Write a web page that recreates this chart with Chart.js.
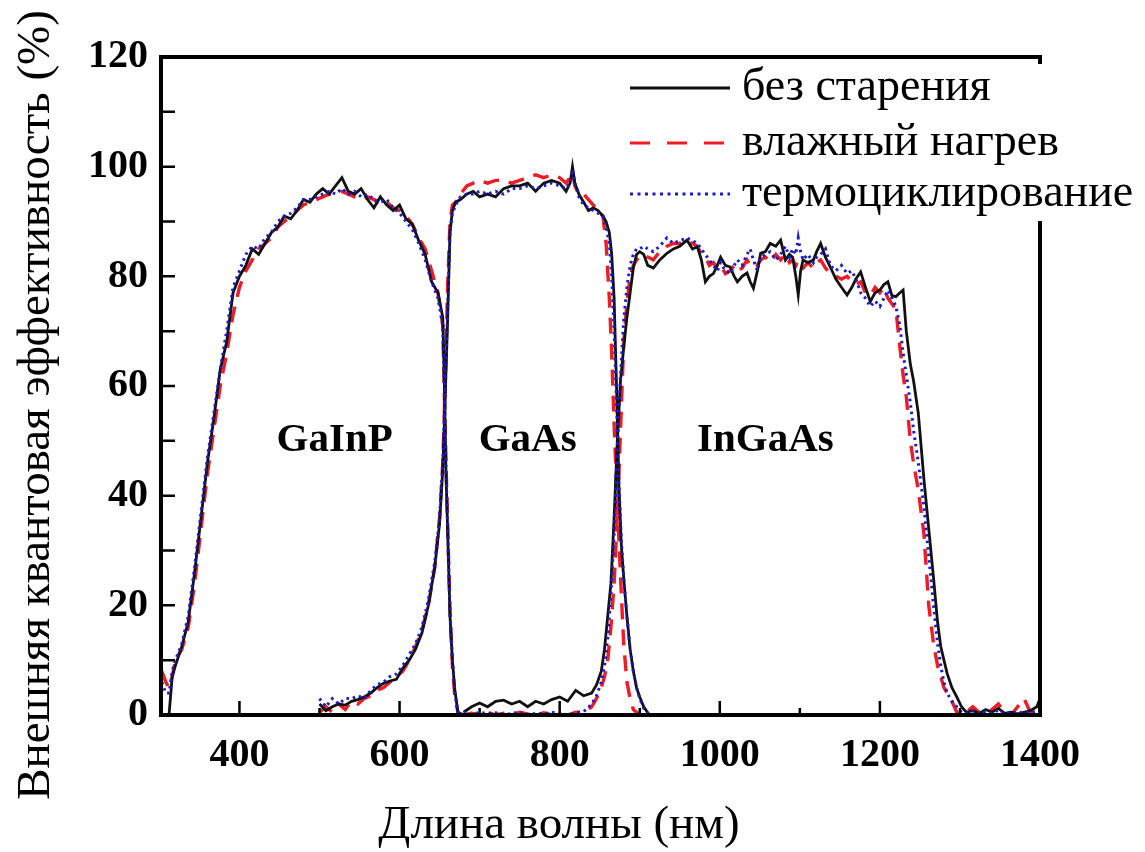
<!DOCTYPE html>
<html>
<head>
<meta charset="utf-8">
<script src="https://cdn.jsdelivr.net/npm/chart.js@4.4.1/dist/chart.umd.min.js"></script>
<style>
  html, body { margin: 0; padding: 0; background: #fff; }
</style>
</head>
<body>
<canvas id="eqeChart" width="1145" height="852"></canvas>
<script>
// wavelength grids (nm) for each sub-cell
const gainpWl = [303, 308, 312, 316, 320, 328, 336, 344, 352, 360, 368, 376, 384, 392, 400, 408, 416, 424, 432, 440, 448, 456, 464, 472, 480, 488, 496, 504, 512, 520, 528, 536, 544, 552, 560, 568, 576, 584, 592, 600, 608, 616, 624, 632, 640, 648, 654, 656, 658, 660, 663, 666, 669, 673, 680];
const gainpFresh = [null, null, 0, 7, 9, 12.5, 17, 26, 36, 46, 54, 63, 68, 77, 80, 82, 85, 84, 86, 88, 89, 91, 90.5, 92, 94, 93.5, 95, 96, 95, 96.5, 98, 95.5, 95, 96, 94, 92.5, 94.5, 93, 92, 93, 90.5, 89.5, 86.5, 84, 79, 77, 72.5, 60, 44, 34, 18, 10, 4.6, 0.4, 0];
const gainpHumid = [8, 6, 5, 7, 10, 12, 16, 24, 34, 44, 52, 60, 66, 73, 78, 81, 83, 85, 86, 87, 89, 90, 91, 92, 93, 93.5, 94, 94.5, 95, 95, 95.5, 95, 94.5, 94, 94.5, 94, 93, 93.5, 92.5, 92, 91, 89.5, 87, 85, 81, 77, 71, 58, 46, 35, 19, 9, 3.5, 0.4, 0];
const gainpCycle = [6, 4, 4, 8, 10, 13, 18, 27, 37, 47, 55, 63, 70, 78, 81, 84, 85.5, 85, 87, 88, 90, 91, 91.5, 92.5, 94, 94, 94.5, 95, 95.5, 95, 96, 95, 95.5, 94.5, 95, 94, 93.5, 94, 92.5, 91.5, 90, 88.5, 86, 83, 79, 76, 71, 59, 45, 35, 19, 10, 4, 0.5, 0];

const gaasWl = [500, 508, 516, 524, 532, 540, 548, 556, 564, 572, 580, 588, 596, 604, 612, 620, 628, 636, 644, 650, 654, 657, 660, 663, 666, 670, 676, 684, 692, 700, 710, 720, 730, 740, 750, 760, 770, 780, 790, 800, 808, 813, 816, 819, 824, 830, 836, 842, 848, 854, 858, 862, 865, 868, 871, 874, 877, 880, 884, 888, 892, 896, 900, 905, 912];
const gaasFresh = [2, 0.8, 1.5, 2, 1.8, 2.5, 2.8, 3.3, 4, 5, 5.8, 6.2, 6.5, 8.5, 10, 12, 15, 20, 27, 35, 45, 58, 72, 88, 92, 93.5, 94, 95, 95.5, 94.5, 95, 94.5, 96, 96.5, 96.5, 97, 95.5, 97, 97.5, 97, 95.5, 97, 100, 97, 95, 93.5, 92, 92.5, 92, 91, 90, 88, 84, 76, 60, 42, 31, 25, 18, 12, 8, 5, 3.3, 1.5, 0];
const gaasHumid = [0.5, 1.5, 0.5, 2, 1, 2.5, 2, 3, 3.5, 4.5, 5, 6, 7, 8, 10, 12.5, 15.5, 20, 27, 36, 46, 60, 78, 90, 93, 93.5, 95, 96.5, 97, 97.5, 97, 97.5, 97.5, 97, 97.5, 98, 98.5, 98, 98.5, 98, 97, 98, 99, 96.5, 95, 95, 94, 93, 92, 91, 86, 76, 66, 53, 42, 32, 22, 13, 6, 3, 1, 0.5, 0, 0, 0];
const gaasCycle = [3, 1.5, 3, 2, 3, 3, 3.5, 3, 4.5, 5.5, 6, 7, 7.5, 9, 11, 13, 16, 21, 28, 36, 46, 59, 74, 88, 91.5, 93, 94.5, 95, 95, 95.5, 95, 95.5, 95, 96, 96, 96.5, 96, 96.5, 97, 96.5, 96, 97, 99.5, 97, 94.5, 93, 92.5, 92, 91.5, 91, 89, 86, 80, 70, 57, 42, 32, 25, 18, 12, 8, 5, 3, 1.2, 0];

const ingaasWl = [680, 690, 700, 710, 720, 730, 740, 750, 760, 770, 780, 790, 800, 810, 820, 830, 840, 846, 852, 856, 860, 864, 868, 872, 876, 880, 884, 888, 892, 896, 900, 905, 910, 917, 925, 934, 942, 950, 959, 966, 972, 977, 982, 987, 992, 997, 1001, 1007, 1013, 1018, 1022, 1028, 1034, 1038, 1042, 1047, 1051, 1057, 1063, 1070, 1076, 1082, 1087, 1091, 1095, 1098, 1101, 1104, 1110, 1117, 1121, 1126, 1132, 1138, 1145, 1152, 1159, 1165, 1170, 1176, 1182, 1188, 1194, 1200, 1205, 1210, 1215, 1220, 1225, 1229, 1233, 1238, 1242, 1248, 1255, 1261, 1267, 1272, 1276, 1280, 1284, 1290, 1296, 1302, 1308, 1316, 1324, 1332, 1340, 1348, 1356, 1364, 1372, 1380, 1388, 1396, 1400];
const ingaasFresh = [0.5, 1.5, 2.2, 1.5, 2.5, 2.7, 2, 2.5, 1.5, 2.5, 2, 2.8, 3.3, 2.5, 4.5, 3.5, 4, 5.5, 8, 12, 18, 24, 36, 50, 61, 67, 72.5, 77, 81.5, 84, 84.5, 84, 82, 81.5, 83, 84.2, 85, 85.5, 86.6, 85, 85.4, 83, 79, 80, 80.5, 82, 83.5, 82, 81.7, 80, 79, 80, 80.6, 79, 77.8, 81, 84.2, 84.5, 86, 85.5, 86.6, 83, 84, 83.5, 80, 76.6, 81, 83, 82.5, 83, 84.5, 86, 83.5, 81.7, 79.5, 78, 76.6, 78, 79.5, 80.8, 78, 75.4, 77, 77.5, 78.5, 79, 76.5, 76.3, 77, 77.5, 70, 64, 61, 55, 43, 34, 25, 17, 12.5, 10, 7.6, 5, 3.3, 1.5, 0.5, 0.8, 0.3, 1, 0.5, 1.2, 0.3, 0.5, 0.2, 0.5, 0.8, 1.5, 3];
const ingaasHumid = [0, 0.3, 0, 0.5, 0, 0.3, 0, 0.5, 0.2, 0, 0.4, 0, 0.3, 0, 0.5, 0.5, 1.5, 3, 5, 7, 10, 16, 24, 36, 52, 68, 75, 80, 82, 83, 83.5, 84, 83.5, 83, 84.5, 85.5, 86, 86, 86.5, 86, 85.5, 84, 83.5, 82, 82.5, 81.5, 82, 80.5, 81, 82, 81, 81.5, 83, 82, 81.5, 82, 83, 83.5, 82.5, 84, 83, 84, 82.5, 83, 82, 83, 82, 81.5, 82.5, 81.5, 82.5, 83, 81.5, 80.5, 80, 79.5, 80, 79, 78.5, 79, 77, 76.5, 78, 77, 78, 76, 75, 74, 67, 62, 58, 50, 46, 41, 33, 20, 13, 9, 7, 5, 4, 2.5, 0.5, 0, 0.5, 1.5, 0.5, 0, 1, 2, 0.5, 0, 1.5, 3, 0.5, 1, 2];
const ingaasCycle = [0.5, 0, 0.5, 0.2, 0.4, 0, 0.3, 0.5, 0, 0.3, 0.2, 0.5, 0.3, 0, 0.4, 0.6, 2, 3.5, 6, 9, 14, 22, 33, 48, 62, 72, 78, 82, 84, 85, 85, 85.5, 85, 84.5, 85.5, 87, 86, 86.5, 87, 86.5, 86, 85, 84, 83, 82, 81, 82.5, 81, 80.5, 82, 83, 82, 84, 85, 83, 81, 83.5, 84, 84.5, 83, 84, 85.5, 83.5, 85, 84, 87, 84.5, 83, 84, 82.5, 83.5, 84, 85, 82, 81, 82, 80.5, 81, 79.5, 77, 76, 74.5, 75.5, 74.5, 76, 77.5, 76, 74.5, 71, 66, 62, 57, 52, 46, 38, 29, 20, 13, 9, 6, 4, 2.5, 1.5, 0.5, 0.3, 0.8, 0.2, 0.6, 0.3, 0.9, 0.2, 0.5, 0.3, 0.6, 0.4, 0.8, 1];

const seriesNames = ['без старения', 'влажный нагрев', 'термоциклирование'];
const regionNames = ['GaInP', 'GaAs', 'InGaAs'];
const xTickValues = [400, 600, 800, 1000, 1200, 1400];
const yTickValues = [0, 20, 40, 60, 80, 100, 120];

const styles = [
  { color: '#111111', width: 2.8, dash: [], order: 2 },
  { color: '#ee1c24', width: 3.4, dash: [16, 10], order: 3 },
  { color: '#1a1ac8', width: 3, dash: [2.5, 4], order: 1 }
];

function toPoints(xs, ys) {
  return xs.map((x, i) => ({ x: x, y: ys[i] }));
}

const cells = [
  { wl: gainpWl, series: [gainpFresh, gainpHumid, gainpCycle] },
  { wl: gaasWl, series: [gaasFresh, gaasHumid, gaasCycle] },
  { wl: ingaasWl, series: [ingaasFresh, ingaasHumid, ingaasCycle] }
];

const datasets = [];
cells.forEach(cell => {
  cell.series.forEach((ys, k) => {
    datasets.push({
      label: seriesNames[k],
      data: toPoints(cell.wl, ys),
      borderColor: styles[k].color,
      borderWidth: styles[k].width,
      borderDash: styles[k].dash,
      order: styles[k].order,
      pointRadius: 0,
      tension: 0,
      fill: false
    });
  });
});

const SERIF = '"Liberation Serif", "Times New Roman", serif';

const decorPlugin = {
  id: 'decor',
  afterDraw(chart) {
    const { ctx, chartArea: a, scales: { x, y } } = chart;
    ctx.save();
    ctx.strokeStyle = '#000';
    ctx.lineCap = 'butt';

    // inward ticks
    ctx.lineWidth = 2.5;
    ctx.beginPath();
    for (let v = Math.ceil(x.min / 100) * 100; v < x.max; v += 100) {
      const px = x.getPixelForValue(v);
      const len = v % 200 === 0 ? 14 : 7;
      ctx.moveTo(px, a.bottom);
      ctx.lineTo(px, a.bottom - len);
    }
    for (let v = 10; v < y.max; v += 10) {
      const py = y.getPixelForValue(v);
      ctx.moveTo(a.left, py);
      ctx.lineTo(a.left + 14, py);
    }
    ctx.stroke();

    // frame
    ctx.lineWidth = 4;
    ctx.strokeRect(a.left, a.top, a.right - a.left, a.bottom - a.top);

    // region labels
    ctx.fillStyle = '#000';
    ctx.font = 'bold 41px ' + SERIF;
    ctx.textAlign = 'center';
    ctx.textBaseline = 'middle';
    const anchors = [[519, 50], [760, 50], [1057, 50]];
    regionNames.forEach((name, i) => {
      ctx.fillText(name, x.getPixelForValue(anchors[i][0]), y.getPixelForValue(anchors[i][1]));
    });

    // legend (white box overlapping frame)
    ctx.fillStyle = '#fff';
    ctx.fillRect(615, a.top + 7, chart.width - 615, 157);
    const rows = [88, 143, 194];
    const legendDash = [[], [20, 17], [3, 4.5]];
    seriesNames.forEach((name, k) => {
      ctx.strokeStyle = styles[k].color;
      ctx.lineWidth = 3;
      ctx.setLineDash(legendDash[k]);
      ctx.beginPath();
      ctx.moveTo(630, rows[k]);
      ctx.lineTo(730, rows[k]);
      ctx.stroke();
      ctx.setLineDash([]);
      ctx.fillStyle = '#000';
      ctx.font = '46px ' + SERIF;
      ctx.textAlign = 'left';
      ctx.textBaseline = 'middle';
      ctx.fillText(name, 742, rows[k]);
    });

    // axis titles
    ctx.fillStyle = '#000';
    ctx.font = '47px ' + SERIF;
    ctx.textAlign = 'center';
    ctx.textBaseline = 'middle';
    ctx.fillText('Длина волны (нм)', 559, 826);
    ctx.translate(37, 405);
    ctx.rotate(-Math.PI / 2);
    ctx.fillText('Внешняя квантовая эффективность (%)', 0, 0);
    ctx.restore();
  }
};

new Chart(document.getElementById('eqeChart').getContext('2d'), {
  type: 'line',
  data: { datasets: datasets },
  options: {
    responsive: false,
    devicePixelRatio: 1,
    animation: false,
    layout: { padding: { top: 57, right: 105, left: 0, bottom: 0 } },
    plugins: {
      legend: { display: false },
      tooltip: { enabled: false }
    },
    scales: {
      x: {
        type: 'linear',
        min: 302,
        max: 1400,
        afterBuildTicks: s => { s.ticks = xTickValues.map(v => ({ value: v })); },
        afterFit: s => { s.height = 137; },
        grid: { display: false, drawTicks: false },
        border: { display: false },
        ticks: {
          color: '#000',
          padding: 17,
          maxRotation: 0,
          autoSkip: false,
          callback: v => String(v),
          font: { family: SERIF, size: 40, weight: 'bold' }
        }
      },
      y: {
        min: 0,
        max: 120,
        afterBuildTicks: s => { s.ticks = yTickValues.map(v => ({ value: v })); },
        afterFit: s => { s.width = 161; },
        grid: { display: false, drawTicks: false },
        border: { display: false },
        ticks: {
          color: '#000',
          padding: 13,
          autoSkip: false,
          callback: v => String(v),
          font: { family: SERIF, size: 40, weight: 'bold' }
        }
      }
    }
  },
  plugins: [decorPlugin]
});
</script>
</body>
</html>
